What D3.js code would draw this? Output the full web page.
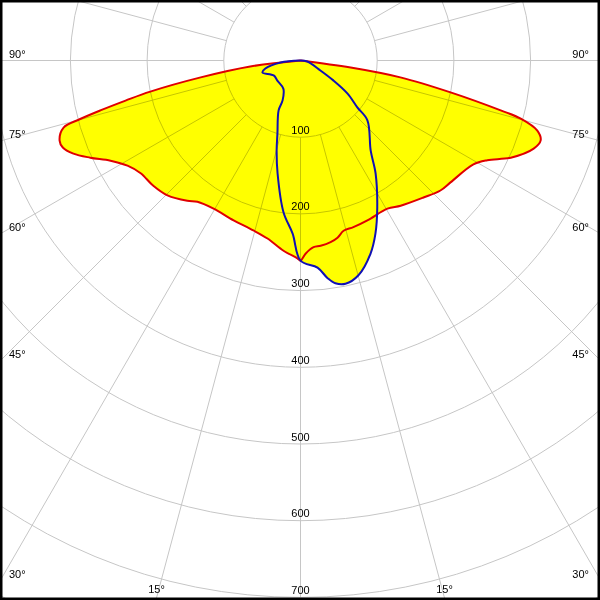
<!DOCTYPE html>
<html><head><meta charset="utf-8">
<script src="https://cdn.jsdelivr.net/npm/d3@7"></script>
<style>html,body{margin:0;padding:0;background:#fff}svg{display:block}</style>
</head><body>
<svg id="chart" width="600" height="600"></svg>
<script>
// Radial tick values (cd) and angle labels
const radialTicks = [100, 200, 300, 400, 500, 600, 700];
const angleLabels = [90, 75, 60, 45, 30, 15];
// Red curve (C0-C180 plane): angles in degrees from nadir, intensities
const redAngles = [-90,-83.2,-80.4,-78.3,-77.1,-76,-75.1,-74.2,-71.6,-69.9,-67.7,-65.2,-62.2,-58.7,-54.8,-49.6,-44.6,-38.9,-36.1,-30.4,-22.7,-16.6,-10.5,-5.1,-0.9,0,1.5,4,6.2,9.4,11.8,14.2,17.6,22.7,30.4,34.6,41.9,47.1,50.9,59,61.9,65.2,69.3,71.6,73.5,75.2,76,78,80.4,82,90];
const redValues = [0,66,132,200,234,269,298,321,331,330,320,302,280,264,255,252,247,235,228,224,226,229,236,249,258,261,252,244,243,240,236,229,228,226,224,230,240,249,252,263,276,302,325,330,322,297,269,200,132,66,0];
// Blue curve (C90-C270 plane)
const blueAngles = [-90,-84.3,-77.1,-72.5,-60.9,-49,-31.3,-24.2,-23.7,-17.5,-14.9,-11.5,-6.4,-2.6,0,4.7,7.1,8.9,11.4,15.1,19.9,23.4,27.6,33.6,37.9,48.2,50.5,54.9,58.8,63.4,81.9,90];
const blueValues = [0,26,47,52,40,40,43,57,71,100,121,150,199,226,261,271,286,294,297,290,268,246,216,177,149,117,96,75,50,29,9,0];

const W = 600, H = 600, cx = 300.5, cy = 60.5;
const r = d3.scaleLinear().domain([0, 100]).range([0, 76.7]);
const svg = d3.select("#chart");
svg.append("rect").attr("width", W).attr("height", H).attr("fill", "#fff");
const g = svg.append("g").attr("transform", `translate(${cx},${cy})`);

const toRad = d => (180 - d) * Math.PI / 180;
const redData = redAngles.map((a, i) => [a, redValues[i]]);
const blueData = blueAngles.map((a, i) => [a, blueValues[i]]);
const line = d3.lineRadial().angle(d => toRad(d[0])).radius(d => r(d[1])).curve(d3.curveCatmullRom.alpha(0.5));

// fills (both planes filled yellow)
g.append("path").attr("d", line(redData)).attr("fill", "#ffff00").attr("stroke", "none");
g.append("path").attr("d", line(blueData)).attr("fill", "#ffff00").attr("stroke", "none");

// grid
const grid = g.append("g").style("mix-blend-mode", "multiply").attr("fill", "none").attr("stroke", "#c6c6c6").attr("stroke-width", 1);
d3.range(100, 900, 100).forEach(v => grid.append("circle").attr("r", r(v)));
d3.range(0, 360, 15).forEach(a => {
  const t = a * Math.PI / 180;
  grid.append("line")
    .attr("x1", r(100) * Math.sin(t)).attr("y1", r(100) * Math.cos(t))
    .attr("x2", r(1000) * Math.sin(t)).attr("y2", r(1000) * Math.cos(t));
});

// curves
g.append("path").attr("d", line(redData)).attr("fill", "none").attr("stroke", "#e00000").attr("stroke-width", 2).attr("stroke-linejoin", "round");
g.append("path").attr("d", line(blueData)).attr("fill", "none").attr("stroke", "#1010b4").attr("stroke-width", 2).attr("stroke-linejoin", "round");

// radial labels
const font = "'Liberation Sans', Arial, sans-serif";
svg.append("g").selectAll("text").data(radialTicks).join("text")
  .attr("x", cx).attr("y", d => cy + r(d) - 3.5)
  .attr("text-anchor", "middle").attr("font-family", font).attr("font-size", 11).attr("fill", "#000")
  .text(d => d);

// angle labels
const lab = svg.append("g").attr("font-family", font).attr("font-size", 11).attr("fill", "#000");
angleLabels.forEach(a => {
  const t = a * Math.PI / 180;
  const s = Math.sin(t), c = Math.cos(t);
  const yEdge = cy + (cx / s) * c;
  if (yEdge <= 598) {
    lab.append("text").attr("x", 9).attr("y", yEdge - 3).text(a + "°");
    lab.append("text").attr("x", 589).attr("y", yEdge - 3).attr("text-anchor", "end").text(a + "°");
  } else {
    const dx = (598 - cy) * Math.tan(t);
    lab.append("text").attr("x", cx - dx).attr("y", 593).attr("text-anchor", "middle").text(a + "°");
    lab.append("text").attr("x", cx + dx).attr("y", 593).attr("text-anchor", "middle").text(a + "°");
  }
});

// frame
svg.append("rect").attr("x", 0).attr("y", 0).attr("width", W).attr("height", H)
  .attr("fill", "none").attr("stroke", "#000").attr("stroke-width", 5);
</script>
</body></html>
